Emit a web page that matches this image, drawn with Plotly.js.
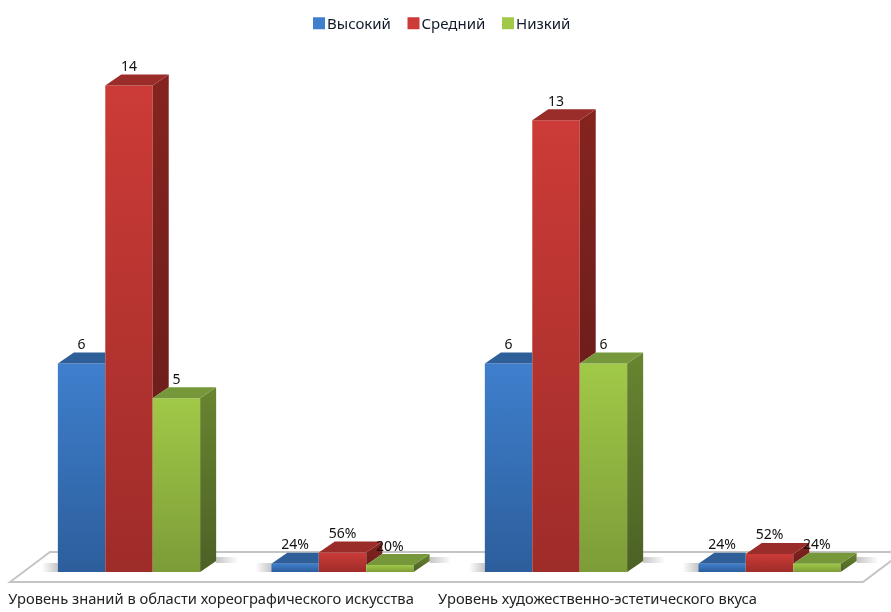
<!DOCTYPE html>
<html><head><meta charset="utf-8">
<script src="https://cdn.plot.ly/plotly-3.0.1.min.js"></script>
<style>html,body{margin:0;padding:0;background:#fff}#c{width:891px;height:612px;filter:blur(0.4px)}</style>
</head><body><div id="c"></div>
<script>
const seriesNames = ['Высокий','Средний','Низкий'];
const high = [6, 0.24, 6, 0.24];
const medium = [14, 0.56, 13, 0.52];
const low = [5, 0.20, 6, 0.24];
const groups = [0,1,2,3];
const tickLabels = ['Уровень знаний в области хореографического искусства','Уровень художественно-эстетического вкуса'];
const frontColors = [['#3f7fcd','#2c5e9c'],['#cc3b37','#9e2c29'],['#a1c947','#7c9c38']];
const topColors = ['#2f5f99','#9a2c29','#76973a'];
const sideColors = [['#2a5488','#234672'],['#85241f','#6e1e1b'],['#688530','#4c6125']];

const W=891,H=612,B=24, pxU=213.5, pyU=34.75, cx0=129, y0=572;
const xr=[(0-cx0)/pxU,(W-cx0)/pxU], yr=[-(H-B-y0)/pyU, y0/pyU];
const barW=142.3/3/pxU, dx=16/pxU, dy=11/pyU;
const series=[high,medium,low];
const traces=[];
const px=v=>v/pxU, py=v=>v/pyU;

// floor shadows (above the floor, beside the bars)
groups.forEach(g=>{
  const L=g-1.5*barW, R=g+1.5*barW+dx;
  const grad=(a,b)=>({type:'horizontal',colorscale:[[0,a],[1,b]]});
  traces.push({x:[L-px(16),L,L,L-px(16)],y:[0,0,py(9),py(9)],mode:'none',fill:'toself',showlegend:false,hoverinfo:'skip',
    fillgradient:grad('rgba(110,110,110,0)','rgba(110,110,110,0.4)')});
  traces.push({x:[R,R+px(22),R+px(22),R],y:[py(9),py(9),py(15),py(15)],mode:'none',fill:'toself',showlegend:false,hoverinfo:'skip',
    fillgradient:grad('rgba(110,110,110,0.4)','rgba(110,110,110,0)')});
});

// front faces: real bars
series.forEach((vals,i)=>traces.push({type:'bar',name:seriesNames[i],x:groups,y:vals,
  marker:{color:frontColors[i][0],line:{width:0}},hoverinfo:'name+y'}));

// top and side faces derived from the values
series.forEach((vals,i)=>{
  vals.forEach((v,g)=>{
    const x0=g-1.5*barW+i*barW, x1=x0+barW;
    const next=i<2?series[i+1][g]:0;
    const hiddenSide = i===0;
    if(!hiddenSide){
      const b=i<2?next:0;
      traces.push({x:[x1,x1+dx,x1+dx,x1],y:[b,b+dy,v+dy,v],mode:'none',fill:'toself',showlegend:false,hoverinfo:'skip',
        fillgradient:{type:'vertical',colorscale:[[0,sideColors[i][1]],[1,sideColors[i][0]]]}});
    }
    const xr1=i===0?x1:x1+dx;
    traces.push({x:[x0,x1,xr1,x0+dx],y:[v,v,v+dy,v+dy],mode:'none',fill:'toself',fillcolor:topColors[i],showlegend:false,hoverinfo:'skip'});
  });
});

// value labels
const lbl=v=>v<1?Math.round(v*100)+'%':String(v);
series.forEach((vals,i)=>traces.push({
  x:groups.map(g=>g-barW+i*barW),
  y:vals.map(v=>v+dy),
  text:vals.map(lbl),mode:'text',textposition:'top center',
  textfont:{family:'"Noto Sans", sans-serif',size:14,color:'#111'},showlegend:false,hoverinfo:'skip'}));

const floorPath=`M ${(10-cx0)/pxU} ${-10/pyU} L ${(50-cx0)/pxU} ${20/pyU} L ${(903-cx0)/pxU} ${20/pyU} L ${(863-cx0)/pxU} ${-10/pyU} Z`;

const layout={
  width:W,height:H,margin:{l:0,r:0,t:0,b:B,pad:0},
  paper_bgcolor:'#fff',plot_bgcolor:'#fff',
  barmode:'group',bargap:1-142.3/pxU,bargroupgap:0,
  showlegend:true,
  legend:{orientation:'h',x:287/W,xanchor:'left',y:1-7/(H-B),yanchor:'top',entrywidth:49.5,entrywidthmode:'pixels',
    font:{family:'"Noto Sans", sans-serif',size:15,color:'#111a2a'},bgcolor:'rgba(0,0,0,0)',itemclick:false,itemdoubleclick:false,traceorder:'normal'},
  xaxis:{type:'linear',range:xr,showgrid:false,zeroline:false,showline:false,fixedrange:true,
    tickmode:'array',tickvals:[(211-cx0)/pxU,(597.5-cx0)/pxU],ticktext:tickLabels,
    ticks:'',automargin:false,
    tickfont:{family:'"Noto Sans", sans-serif',size:14.7,color:'#222'}},
  yaxis:{range:yr,visible:false,fixedrange:true},
  shapes:[{type:'path',layer:'below',xref:'x',yref:'y',path:floorPath,fillcolor:'#fff',line:{color:'#c4c4c4',width:2}}]
};

Plotly.newPlot('c',traces,layout,{displayModeBar:false}).then(gd=>{
  const svg=gd.querySelector('svg.main-svg');
  const ns='http://www.w3.org/2000/svg';
  const defs=svg.querySelector('defs')||svg.appendChild(document.createElementNS(ns,'defs'));
  frontColors.forEach((c,i)=>{
    const g=document.createElementNS(ns,'linearGradient');
    g.setAttribute('id','front'+i);g.setAttribute('x1','0');g.setAttribute('y1','0');g.setAttribute('x2','0');g.setAttribute('y2','1');
    [[0,c[0]],[1,c[1]]].forEach(s=>{const e=document.createElementNS(ns,'stop');e.setAttribute('offset',s[0]);e.setAttribute('stop-color',s[1]);g.appendChild(e);});
    defs.appendChild(g);
  });
  gd.querySelectorAll('.barlayer .trace.bars').forEach((t,i)=>{
    t.querySelectorAll('.point path').forEach(p=>{p.style.fill='url(#front'+i+')';});
  });
  gd.querySelectorAll('.legend .legendsymbols').forEach(s=>{s.setAttribute('transform','translate(12,0)');});
});
</script></body></html>
